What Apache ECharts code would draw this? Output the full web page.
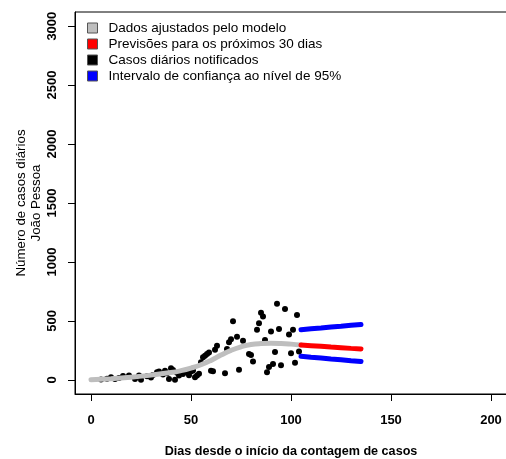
<!DOCTYPE html>
<html>
<head>
<meta charset="utf-8">
<script src="https://cdn.jsdelivr.net/npm/echarts@6/dist/echarts.min.js"></script>
<style>
  html, body { margin: 0; padding: 0; background: #fff; }
  #chart { width: 506px; height: 459px; }
</style>
</head>
<body>
<div id="chart"></div>
<script>
// casos diarios notificados (dia, casos)
const caseDays = [5, 8, 10, 12, 14, 16, 19, 22, 24, 25, 28, 30, 31, 33, 34, 36, 37, 38, 39, 40, 41, 42, 43, 44, 45, 46, 48, 49, 50, 51, 52, 53, 54, 55, 56, 57, 58, 59, 60, 61, 62, 63, 67, 68, 69, 70, 71, 73, 74, 76, 79, 80, 81, 83, 84, 85, 86, 87, 88, 89, 90, 91, 92, 93, 94, 95, 97, 99, 100, 101, 102, 103, 104];
const caseValues = [2, 10, 22, 8, 15, 32, 36, 8, 36, 0, 31, 20, 42, 65, 70, 45, 78, 55, 8, 99, 84, 0, 60, 36, 65, 50, 65, 40, 70, 80, 22, 36, 51, 149, 191, 205, 219, 233, 78, 73, 255, 289, 56, 261, 318, 345, 497, 366, 85, 331, 219, 211, 155, 424, 480, 570, 538, 337, 65, 110, 410, 135, 236, 646, 431, 123, 600, 385, 226, 424, 145, 551, 240];

// curva ajustada pelo modelo
const fitDays = [0, 10, 20, 30, 40, 45, 50, 55, 60, 65, 70, 75, 80, 85, 90, 95, 100, 105];
const fitValues = [0, 10, 22, 40, 62, 78, 100, 128, 165, 210, 250, 280, 300, 308, 310, 308, 303, 296];

// previsoes e intervalo de confianca
const forecastDays = [105, 110, 115, 120, 125, 130, 135];
const forecastValues = [296, 290, 284, 278, 273, 267, 262];
const upperValues = [425, 433, 440, 448, 455, 463, 470];
const lowerValues = [200, 192, 185, 177, 170, 162, 155];

const xTicks = [0, 50, 100, 150, 200];
const yTicks = [0, 500, 1000, 1500, 2000, 2500, 3000];

const names = ['Dados ajustados pelo modelo', 'Previsões para os próximos 30 dias', 'Casos diários notificados', 'Intervalo de confiança ao nível de 95%'];

function pairs(xs, ys) {
  return xs.map((x, i) => [x, ys[i]]);
}

const chart = echarts.init(document.getElementById('chart'), null, { renderer: 'canvas' });
const font = 'Liberation Sans, Arial, sans-serif';

const option = {
  animation: false,
  textStyle: { fontFamily: font },
  grid: {
    left: 75, top: 12, right: -1, bottom: 65,
    outerBoundsMode: 'none', containLabel: false,
    show: true, borderColor: '#000', borderWidth: 1, backgroundColor: 'transparent'
  },
  legend: {
    orient: 'vertical',
    left: 87, top: 21, padding: 0,
    data: names,
    icon: 'rect',
    itemWidth: 10, itemHeight: 10, itemGap: 2,
    itemStyle: { borderColor: '#555', borderWidth: 1 },
    textStyle: { fontSize: 13.5, color: '#000', padding: [0, 0, 0, 6], fontFamily: font }
  },
  xAxis: {
    type: 'value', min: -8, max: 208,
    name: 'Dias desde o início da contagem de casos',
    nameLocation: 'middle', nameGap: 51, nameMoveOverlap: false,
    nameTextStyle: { fontSize: 12.6, fontWeight: 'bold', color: '#000' },
    axisLine: { show: true, onZero: false, lineStyle: { color: '#000', width: 1 } },
    axisTick: { show: true, length: 7, customValues: xTicks, lineStyle: { color: '#000' } },
    axisLabel: { customValues: xTicks, margin: 20, fontSize: 13, fontWeight: 'bold', color: '#000' },
    splitLine: { show: false }
  },
  yAxis: {
    type: 'value', min: -120, max: 3120,
    name: 'Número de casos diários\nJoão Pessoa',
    nameLocation: 'middle', nameGap: 31, nameRotate: 90, nameMoveOverlap: false,
    nameTextStyle: { fontSize: 13.3, color: '#000', lineHeight: 15 },
    axisLine: { show: true, onZero: false, lineStyle: { color: '#000', width: 1 } },
    axisTick: { show: true, length: 7, customValues: yTicks, lineStyle: { color: '#000' } },
    axisLabel: {
      customValues: yTicks, rotate: 90, margin: 16, fontSize: 13, fontWeight: 'bold', color: '#000',
      formatter: v => String(v)
    },
    splitLine: { show: false }
  },
  series: [
    {
      name: names[2], type: 'scatter', color: '#000',
      symbol: 'circle', symbolSize: 6,
      itemStyle: { opacity: 1 },
      data: pairs(caseDays, caseValues)
    },
    {
      name: names[0], type: 'line', color: '#bebebe',
      showSymbol: false, symbol: 'none', smooth: true,
      lineStyle: { width: 5, cap: 'round' },
      data: pairs(fitDays, fitValues)
    },
    {
      name: names[1], type: 'line', color: '#ff0000',
      showSymbol: false, symbol: 'none',
      lineStyle: { width: 5, cap: 'round' },
      data: pairs(forecastDays, forecastValues)
    },
    {
      name: names[3], type: 'line', color: '#0000ff',
      showSymbol: false, symbol: 'none',
      lineStyle: { width: 5, cap: 'round' },
      data: pairs(forecastDays, upperValues)
    },
    {
      name: names[3], type: 'line', color: '#0000ff',
      showSymbol: false, symbol: 'none',
      lineStyle: { width: 5, cap: 'round' },
      data: pairs(forecastDays, lowerValues)
    }
  ]
};

chart.setOption(option);
</script>
</body>
</html>
